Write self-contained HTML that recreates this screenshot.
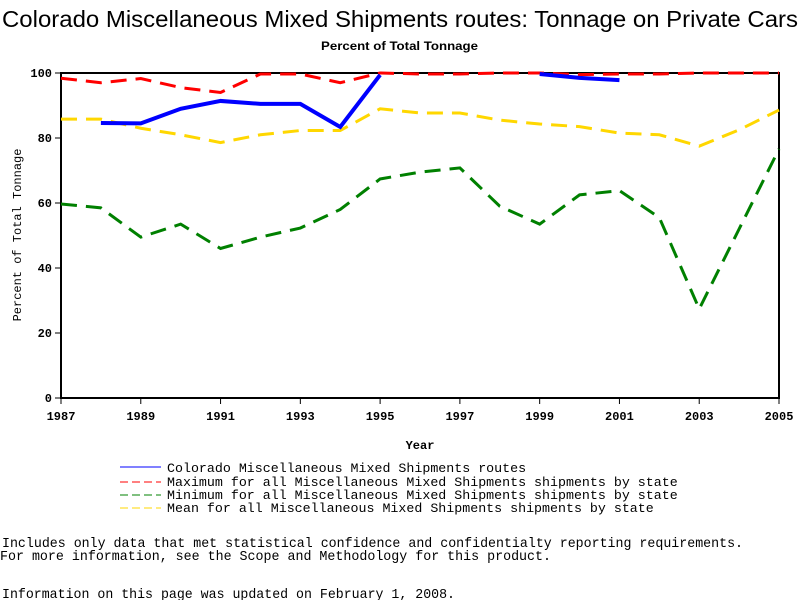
<!DOCTYPE html>
<html><head><meta charset="utf-8"><style>
body{margin:0;background:#fff;width:800px;height:600px;overflow:hidden}
svg text{font-family:"Liberation Mono",monospace}
</style></head><body>
<svg id="chart" width="800" height="600" xmlns="http://www.w3.org/2000/svg">
<text x="2" y="27" textLength="796" lengthAdjust="spacingAndGlyphs" style="font-family:'Liberation Sans',sans-serif;font-size:23px">Colorado Miscellaneous Mixed Shipments routes: Tonnage on Private Cars</text>
<text x="321" y="50" textLength="157" lengthAdjust="spacingAndGlyphs" style="font-family:'Liberation Sans',sans-serif;font-size:12px;font-weight:bold">Percent of Total Tonnage</text>
<g id="axes"></g>
<g id="series"></g>
<text x="420" y="449" text-anchor="middle" font-size="12" font-weight="bold">Year</text>
<text transform="translate(21,235) rotate(-90)" text-anchor="middle" font-size="12">Percent of Total Tonnage</text>
<g font-size="13.3">
<line x1="120" y1="467" x2="161" y2="467" stroke="#0000ff" stroke-width="1"/>
<text x="167" y="472">Colorado Miscellaneous Mixed Shipments routes</text>
<line x1="120" y1="482" x2="161" y2="482" stroke="#ff0000" stroke-dasharray="8,4"/>
<text x="167" y="486">Maximum for all Miscellaneous Mixed Shipments shipments by state</text>
<line x1="120" y1="495" x2="161" y2="495" stroke="#008000" stroke-dasharray="8,4"/>
<text x="167" y="499">Minimum for all Miscellaneous Mixed Shipments shipments by state</text>
<line x1="120" y1="508" x2="161" y2="508" stroke="#ffd700" stroke-dasharray="8,4"/>
<text x="167" y="512">Mean for all Miscellaneous Mixed Shipments shipments by state</text>
</g>
<g font-size="14">
<text x="2" y="547" textLength="741" lengthAdjust="spacingAndGlyphs">Includes only data that met statistical confidence and confidentialty reporting requirements.</text>
<text x="0" y="560" textLength="551" lengthAdjust="spacingAndGlyphs">For more information, see the Scope and Methodology for this product.</text>
<text x="2" y="598" textLength="453" lengthAdjust="spacingAndGlyphs">Information on this page was updated on February 1, 2008.</text>
</g>
</svg>
<script>
const years=[1987,1988,1989,1990,1991,1992,1993,1994,1995,1996,1997,1998,1999,2000,2001,2002,2003,2004,2005];
const colorado=[null,84.6,84.5,89,91.4,90.5,90.5,83.4,99.4,null,null,null,99.7,98.5,97.8,null,null,null,null];
const maxVals=[98.4,97,98.3,95.5,94,99.7,99.7,97,100,99.7,99.7,100,100,99.5,99.7,99.7,100,100,100];
const minVals=[59.7,58.5,49.5,53.5,46,49.5,52.3,58,67.4,69.5,70.8,59,53.5,62.5,63.8,55.5,27.4,52,76.6];
const meanVals=[85.8,85.8,83,81,78.6,81,82.3,82.3,89,87.7,87.7,85.5,84.3,83.5,81.5,81,77.5,82.5,88.6];
const xTicks=[1987,1989,1991,1993,1995,1997,1999,2001,2003,2005];
const yTicks=[0,20,40,60,80,100];
const NS="http://www.w3.org/2000/svg";
const X0=61,X1=779,Y0=398,Y1=73;
function xs(y){return X0+(y-1987)/(2005-1987)*(X1-X0);}
function ys(v){return Y0-v/100*(Y0-Y1);}
function mk(t,a,p){const e=document.createElementNS(NS,t);for(const k in a)e.setAttribute(k,a[k]);p.appendChild(e);return e;}
const ax=document.getElementById('axes');
const frame=mk('rect',{x:X0,y:Y1,width:X1-X0,height:Y0-Y1,fill:'none',stroke:'#000','stroke-width':2},ax);


xTicks.forEach(t=>{
 const l=mk('line',{x1:xs(t),x2:xs(t),y1:Y0,y2:Y0+6,stroke:'#000','stroke-width':1},ax);
 
 
 const tx=mk('text',{x:xs(t),y:Y0+22,'text-anchor':'middle','font-size':12,'font-weight':'bold'},ax);
 tx.textContent=t;
 
 
});
yTicks.forEach(t=>{
 const l=mk('line',{x1:X0-6,x2:X0,y1:ys(t),y2:ys(t),stroke:'#000','stroke-width':1},ax);
 
 
 const tx=mk('text',{x:X0-9,y:ys(t)+4,'text-anchor':'end','font-size':12,'font-weight':'bold'},ax);
 tx.textContent=t;
 
 
});
const sg=document.getElementById('series');
function draw(vals,color,dash,w,name){
 let seg=[];const segs=[];
 vals.forEach((v,i)=>{if(v==null){if(seg.length)segs.push(seg);seg=[];}else seg.push(xs(years[i])+','+ys(v));});
 if(seg.length)segs.push(seg);
 segs.forEach(s=>{
  const p=mk('polyline',{points:s.join(' '),fill:'none',stroke:color,'stroke-width':w,'stroke-dasharray':dash},sg);
  
  
 });
}
draw(minVals,'#008000','16,9',3,'min-line');
draw(meanVals,'#ffd700','16,9',3,'mean-line');
draw(maxVals,'#ff0000','16,9',3,'max-line');
draw(colorado,'#0000ff','none',4,'colorado-line');
</script>
</body></html>
